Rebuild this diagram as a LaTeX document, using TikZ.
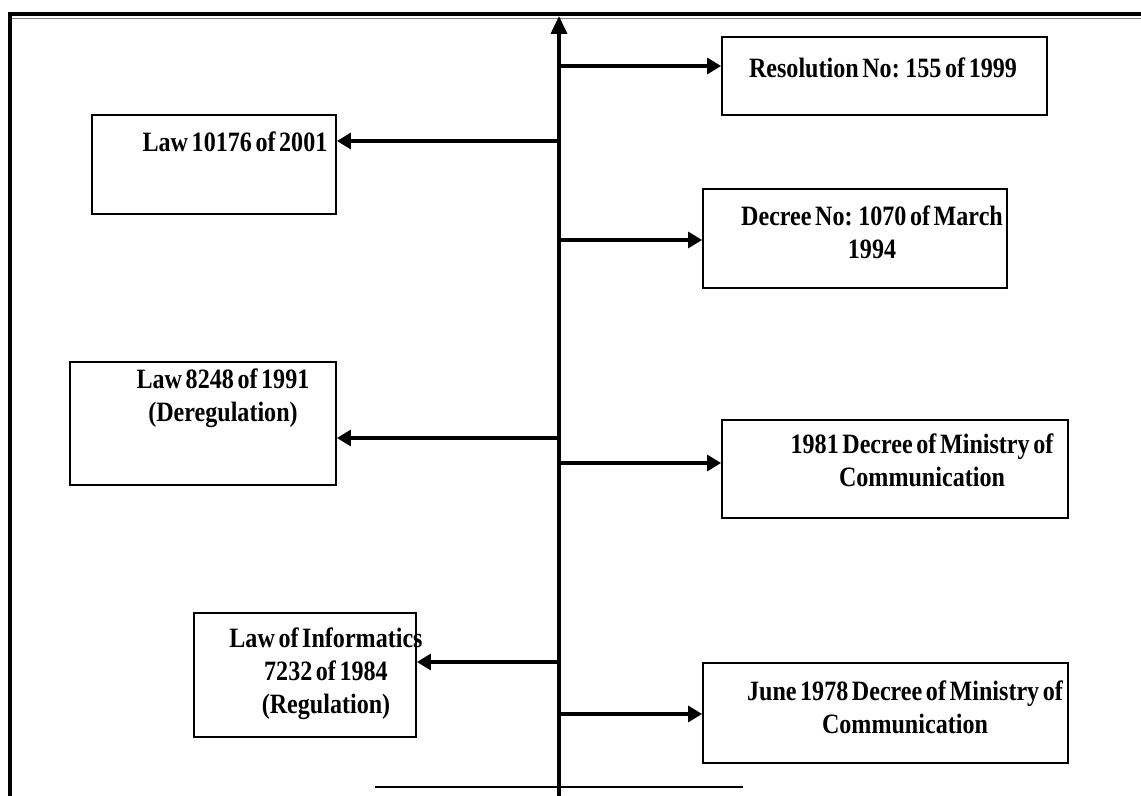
\documentclass[tikz,border=0pt]{standalone}
\usepackage{fontspec}
\setmainfont{Liberation Serif}[FakeStretch=0.86,WordSpace=0.6]
\usetikzlibrary{arrows.meta}

\tikzset{
  box/.style={draw, line width=0.9pt, inner sep=0pt},
  txt/.style={font=\bfseries\fontsize{14}{16.5}\selectfont, align=center, inner sep=0pt},
  tick/.style={-{Triangle[length=7pt,width=8pt]}, line width=1.6pt},
  axis/.style={-{Triangle[length=9pt,width=8pt]}, line width=1.9pt}
}

\begin{document}
\begin{tikzpicture}[x=0.5pt, y=-0.5pt]
    \useasboundingbox (0,0) rectangle (1141,796);

    % frame
    \coordinate (c0) at (8,14);
    \coordinate (c1) at (1141,14);
    \coordinate (c2) at (10,796);
    \draw[line width=1.6pt] (c0) -- (c1);
    \draw[gray, line width=0.5pt] (8,18.5) -- (1141,18.5);
    \draw[line width=1.6pt] (c2) -- (c2 |- c0);

    % time axis
    \coordinate (bot) at (559,796);
    \coordinate (top) at (559,16);
    \draw[axis] (bot) -- (top);
    \coordinate (b0) at (375,787);
    \coordinate (b1) at (743,787);
    \draw[line width=0.7pt] (b0) -- (b1);

    % boxes
    \node[box, minimum width=162.5pt, minimum height=39pt] (r1) at (884.5,76) {};
    \node[box, minimum width=122pt, minimum height=49.5pt] (l1) at (214,164.5) {};
    \node[box, minimum width=152pt, minimum height=49.5pt] (r2) at (855,238.5) {};
    \node[box, minimum width=133pt, minimum height=61.5pt] (l2) at (203,423.5) {};
    \node[box, minimum width=173pt, minimum height=49pt] (r3) at (895,469) {};
    \node[box, minimum width=111pt, minimum height=62pt] (l3) at (305,675) {};
    \node[box, minimum width=182.5pt, minimum height=50pt] (r4) at (885.5,713) {};

    % texts
    \node[txt] (t1) at (883,68) {Resolution No: 155 of 1999};
    \node[txt] (t2) at (235,142) {Law 10176 of 2001};
    \node[txt] (t3) at (872,232) {Decree No: 1070 of March\\1994};
    \node[txt] (t4) at (223,398) {Law 8248 of 1991\\(Deregulation)};
    \node[txt] (t5) at (922,460) {1981 Decree of Ministry of\\Communication};
    \node[txt] (t6) at (326,674) {Law of Informatics\\7232 of 1984\\(Regulation)};
    \node[txt] (t7) at (905,707) {June 1978 Decree of Ministry of\\Communication};

    % branches
    \coordinate (a1) at (559,66);
    \coordinate (a2) at (559,141);
    \coordinate (a3) at (559,240);
    \coordinate (a4) at (559,438);
    \coordinate (a5) at (559,463);
    \coordinate (a6) at (559,662);
    \coordinate (a7) at (559,714);
    \draw[tick] (a1) -- (a1 -| r1.west);
    \draw[tick] (a2) -- (a2 -| l1.east);
    \draw[tick] (a3) -- (a3 -| r2.west);
    \draw[tick] (a4) -- (a4 -| l2.east);
    \draw[tick] (a5) -- (a5 -| r3.west);
    \draw[tick] (a6) -- (a6 -| l3.east);
    \draw[tick] (a7) -- (a7 -| r4.west);
\end{tikzpicture}
\end{document}
